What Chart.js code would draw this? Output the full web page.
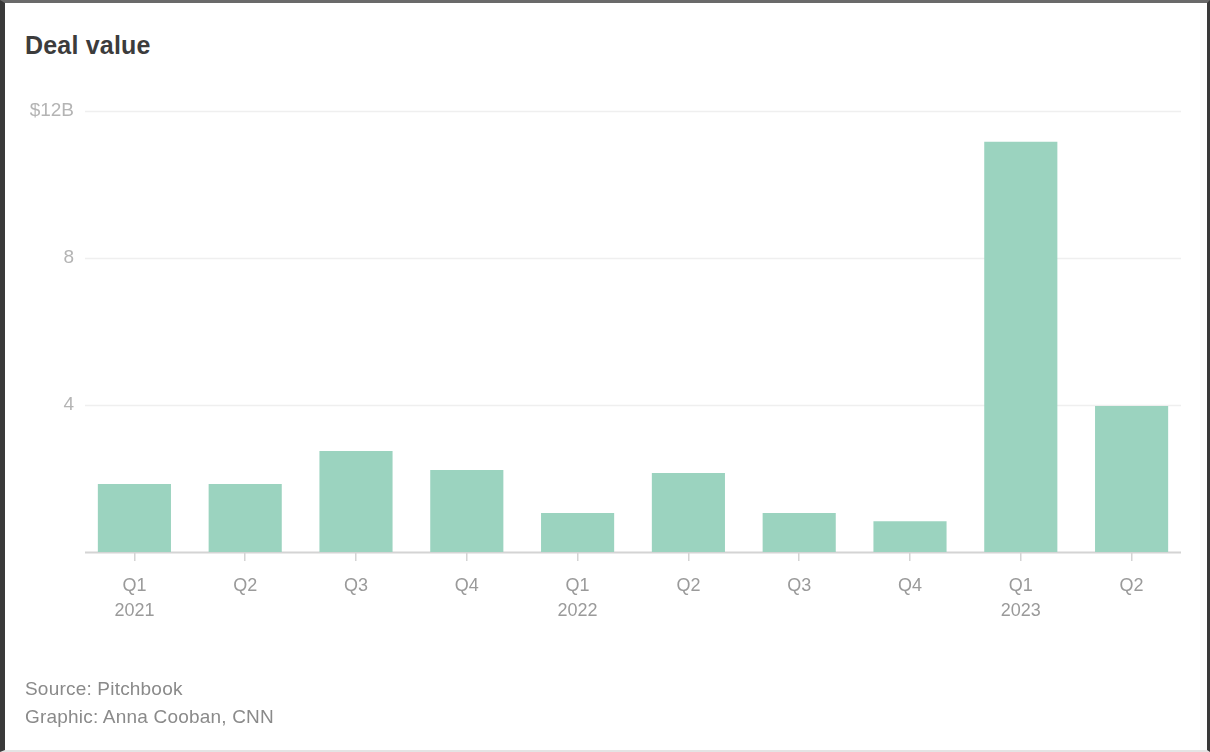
<!DOCTYPE html>
<html>
<head>
<meta charset="utf-8">
<script src="https://cdn.jsdelivr.net/npm/chart.js@4"></script>
<style>
	html, body { margin: 0; padding: 0; background: #fff; }
	#quadro {
		position: relative;
		width: 1210px; height: 752px;
		box-sizing: border-box;
		border-left: 5px solid #3a3a3a;
		border-top: 3px solid #6a6a6a;
		border-right: 3px solid #3a3a3a;
		border-bottom: 2px solid #e4e4e4;
		overflow: hidden;
		font-family: 'Liberation Sans', Arial, sans-serif;
	}
	#titulo {
		position: absolute; left: 20px; top: 28px;
		font-size: 25px; font-weight: bold; color: #3c3c3c;
		letter-spacing: 0.2px;
	}
	#rodape {
		position: absolute; left: 20px; top: 672px;
		font-size: 19px; color: #8a8a8a; line-height: 28px;
		letter-spacing: 0.2px;
	}
	#chartBarras { position: absolute; left: -5px; top: -3px; }
</style>
</head>
<body>
<div id="quadro">
	<div id="titulo">Deal value</div>
	<canvas id="chartBarras" width="1210" height="752"></canvas>
	<div id="rodape">Source: Pitchbook<br>Graphic: Anna Cooban, CNN</div>
</div>
<script>
// dados (bilhões de dólares)
const trimestres = [['Q1', '2021'], 'Q2', 'Q3', 'Q4', ['Q1', '2022'], 'Q2', 'Q3', 'Q4', ['Q1', '2023'], 'Q2'];
const valores = [1.85, 1.85, 2.75, 2.23, 1.06, 2.15, 1.06, 0.84, 11.16, 3.97];
const ticksY = [0, 4, 8, 12];
const rotulosY = ['', '4', '8', '$12B'];

const corBarra = '#9bd3bf';

// linhas de grade desenhadas um pouco para dentro da área do gráfico
const gradePlugin = {
	id: 'grade',
	beforeDatasetsDraw(chart) {
		const { ctx, chartArea, scales } = chart;
		const x0 = chartArea.left + 6, x1 = chartArea.right - 6;
		ctx.save();
		ticksY.forEach(function (v) {
			const y = Math.round(scales.y.getPixelForValue(v)) + 0.5;
			ctx.strokeStyle = v === 0 ? '#d4d4d4' : '#efefef';
			ctx.lineWidth = v === 0 ? 2 : 1.5;
			ctx.beginPath();
			ctx.moveTo(x0, y);
			ctx.lineTo(x1, y);
			ctx.stroke();
		});
		ctx.restore();
	}
};

new Chart(document.getElementById('chartBarras'), {
	type: 'bar',
	data: {
		labels: trimestres,
		datasets: [{
			label: 'Deal value',
			data: valores,
			backgroundColor: corBarra,
			borderWidth: 0,
			barPercentage: 0.66,
			categoryPercentage: 1
		}]
	},
	options: {
		responsive: false,
		animation: false,
		events: [],
		layout: { padding: { top: 111, right: 23, bottom: 120, left: 0 } },
		plugins: { legend: { display: false }, tooltip: { enabled: false } },
		scales: {
			x: {
				grid: { display: true, drawOnChartArea: false, offset: false, color: '#d4d4d4', tickLength: 9, lineWidth: 1.5 },
				border: { display: false },
				ticks: {
					color: '#9a9a9a',
					padding: 13,
					font: { family: "'Liberation Sans', Arial, sans-serif", size: 18, lineHeight: 1.39 }
				},
				afterFit: function (scale) { scale.height = 80; }
			},
			y: {
				min: 0, max: 12,
				grid: { display: false, drawTicks: false },
				border: { display: false },
				afterBuildTicks: function (scale) { scale.ticks = ticksY.map(v => ({ value: v })); },
				ticks: {
					color: '#b4b4b4',
					padding: 5,
					font: { family: "'Liberation Sans', Arial, sans-serif", size: 19 },
					callback: function (value) { return rotulosY[ticksY.indexOf(value)]; }
				},
				afterFit: function (scale) { scale.width = 79; }
			}
		}
	},
	plugins: [gradePlugin]
});
</script>
</body>
</html>
